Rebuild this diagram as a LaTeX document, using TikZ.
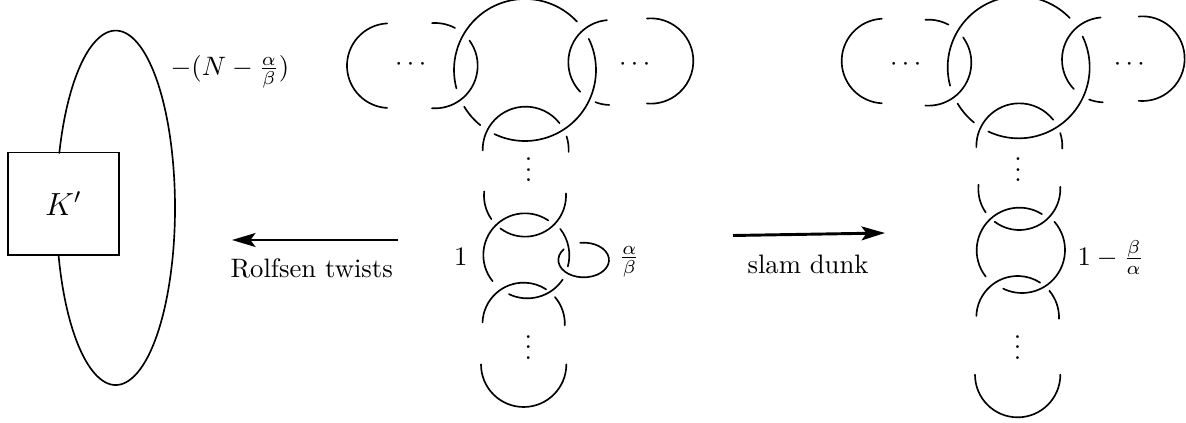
\documentclass[tikz,border=0pt]{standalone}
\usetikzlibrary{arrows.meta}
\newcommand{\zarc}[5]{\draw[knot] ([shift={(#1,#2)}]-#4:#3) arc[start angle=-#4,end angle=-#5,radius=#3];}
\tikzset{
  knot/.style={line width=0.62pt,line cap=round},
  zoomed/.style={x=0.375pt/3,y=-0.375pt/3},
  bigarrow/.style={line width=1.1pt,-{Stealth[length=8.8pt,width=5.2pt,inset=1.9pt]}},
  lab/.style={inner sep=0pt}
}
\begin{document}
\begin{tikzpicture}[x=0.375pt,y=-0.375pt]
\useasboundingbox (0,0) rectangle (1186,423);
\clip (0,0) rectangle (1186,423);
% left picture
\draw[knot] ([shift={(115.7,207.8)}]-195.4:59.3 and 177.2) arc[start angle=-195.4,end angle=-522,x radius=59.3,y radius=177.2];
\node[draw,line width=0.62pt,minimum width=41.5pt,minimum height=38.4pt,inner sep=0pt,anchor=north west,font=\large] (box) at (7.3,151.7) {$K'$\hspace{1.5pt}};
\node[lab] (framing) at (230,72) {$-(N-\frac{\alpha}{\beta})$};
% middle picture, top
\begin{scope}[shift={(340,0)},zoomed]
\zarc{148}{197}{127}{93}{267}
\zarc{285}{197}{128}{94}{62}
\zarc{285}{197}{128}{36}{-94}
\zarc{555}{210}{213}{43}{195}
\zarc{555}{210}{213}{211}{231}
\zarc{555}{210}{213}{244.5}{386}
\zarc{812}{187}{127}{95}{224}
\zarc{812}{187}{128}{249}{268}
\zarc{932}{183}{128}{95}{-95}
\zarc{557}{449}{129}{181}{38}
\zarc{557}{449}{129}{18}{-3}
\node[lab] (mdotsl) at (212,193) {$\cdots$};
\node[lab] (mdotsr) at (884,193) {$\cdots$};
\node[lab] (mvdotst) at (566,485) {$\vdots$};
\end{scope}
% middle picture, bottom
\begin{scope}[shift={(440,180)},zoomed]
\zarc{255}{47}{123}{174}{215}
\zarc{255}{47}{123}{233}{363}
\zarc{255}{225}{125}{219}{56}
\zarc{259}{226}{129}{38}{-15}
\zarc{262}{227}{128}{-34}{-115.6}
\draw[knot] ([shift={(431,240)}]-98:76 and 52) arc[start angle=-98,end angle=218.5,x radius=76,y radius=52];
\zarc{251}{431.5}{123.5}{178}{57}
\zarc{251}{431.5}{123.5}{40.6}{-2}
\zarc{251}{553}{128}{180}{360}
\node[lab] (mone) at (62,232) {$1$};
\node[lab] (mfrac) at (568,245) {$\frac{\alpha}{\beta}$};
\node[lab] (mvdotsb) at (265,478) {$\vdots$};
\end{scope}
% right picture, top
\begin{scope}[shift={(800,0)},zoomed]
\zarc{252}{183}{127}{93}{267}
\zarc{385}{188}{129}{94}{62}
\zarc{385}{188}{129}{36}{-94}
\zarc{656}{202}{213}{44}{195}
\zarc{656}{202}{213}{210.6}{231}
\zarc{656}{202}{213}{244.7}{385.7}
\zarc{913}{179}{127}{95}{224}
\zarc{913}{179}{128}{249}{268}
\zarc{1027}{176}{127}{95}{-95}
\zarc{658}{439}{129}{181}{38}
\zarc{658}{439}{129}{18}{-3}
\node[lab] (rdotsl) at (317,193) {$\cdots$};
\node[lab] (rdotsr) at (988,193) {$\cdots$};
\node[lab] (rvdotst) at (654,485) {$\vdots$};
\end{scope}
% right picture, bottom
\begin{scope}[shift={(940,180)},zoomed]
\zarc{238}{27}{123}{174}{215}
\zarc{238}{27}{123}{233}{363}
\zarc{238}{211}{128}{218}{58}
\zarc{246}{210}{129}{41}{-116}
\zarc{233}{412}{124}{178}{57}
\zarc{233}{412}{124}{40}{-2}
\zarc{233}{584}{128}{180}{360}
\node[lab] (rlabel) at (512,232) {$1-\frac{\beta}{\alpha}$};
\node[lab] (rvdotsb) at (233,478) {$\vdots$};
\end{scope}
% arrows
\coordinate (lstart) at (398,240);
\coordinate (lend) at (232,240);
\coordinate (rstart) at (733,235.5);
\coordinate (rend) at (885,233);
\draw[bigarrow] (lstart) -- (lend);
\draw[bigarrow] (rstart) -- (rend);
\node[lab] (rolfsen) at (311.7,268) {Rolfsen twists};
\node[lab] (slam) at (808,264) {slam dunk};
\end{tikzpicture}
\end{document}
